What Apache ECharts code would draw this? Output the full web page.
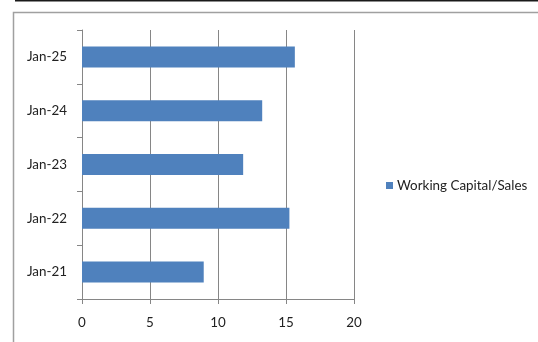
<!DOCTYPE html>
<html>
<head>
<meta charset="utf-8">
<script src="https://cdn.jsdelivr.net/npm/echarts@6/dist/echarts.min.js"></script>
<style>html,body{margin:0;padding:0;background:#fff}#c{width:538px;height:342px}</style>
</head>
<body>
<div id="c"></div>
<script>
const categories = ['Jan-21', 'Jan-22', 'Jan-23', 'Jan-24', 'Jan-25'];
const seriesName = 'Working Capital/Sales';
const values = [8.95, 15.25, 11.85, 13.25, 15.65];
const xTicks = { min: 0, max: 20, interval: 5 };

const chart = echarts.init(document.getElementById('c'), null, { renderer: 'canvas' });
const font = 'Lato, Open Sans, sans-serif';
chart.setOption({
  animation: false,
  backgroundColor: '#fff',
  graphic: [
    { type: 'rect', shape: { x: 15, y: 0, width: 530, height: 1.6 }, style: { fill: '#1a1a1a' } },
    { type: 'rect', shape: { x: 13.5, y: 12.5, width: 540, height: 340 }, style: { fill: 'none', stroke: '#a0a0a0', lineWidth: 1.5 } }
  ],
  grid: { left: 82, top: 30, right: 184, bottom: 43, containLabel: false },
  legend: {
    left: 381, top: 174,
    itemWidth: 7, itemHeight: 7, itemGap: 5,
    icon: 'rect',
    textStyle: { fontFamily: font, fontSize: 13.4, color: '#222', padding: [0, 0, 0, -1] },
    data: [seriesName]
  },
  xAxis: {
    type: 'value', min: xTicks.min, max: xTicks.max, interval: xTicks.interval,
    axisLine: { show: true, lineStyle: { color: '#868686', width: 1 } },
    axisTick: { show: true, length: 5, lineStyle: { color: '#868686' } },
    splitLine: { show: true, lineStyle: { color: '#868686', width: 1 } },
    axisLabel: { margin: 17, fontFamily: font, fontSize: 13.4, color: '#222' }
  },
  yAxis: {
    type: 'category', data: categories,
    axisLine: { show: true, lineStyle: { color: '#868686', width: 1 } },
    axisTick: { show: true, length: 5, lineStyle: { color: '#868686' } },
    splitLine: { show: false },
    axisLabel: { margin: 15, fontFamily: font, fontSize: 13.4, color: '#222' }
  },
  series: [{
    name: seriesName, type: 'bar', data: values, barWidth: 21,
    itemStyle: { color: '#4F81BD' }
  }]
});
</script>
</body>
</html>
